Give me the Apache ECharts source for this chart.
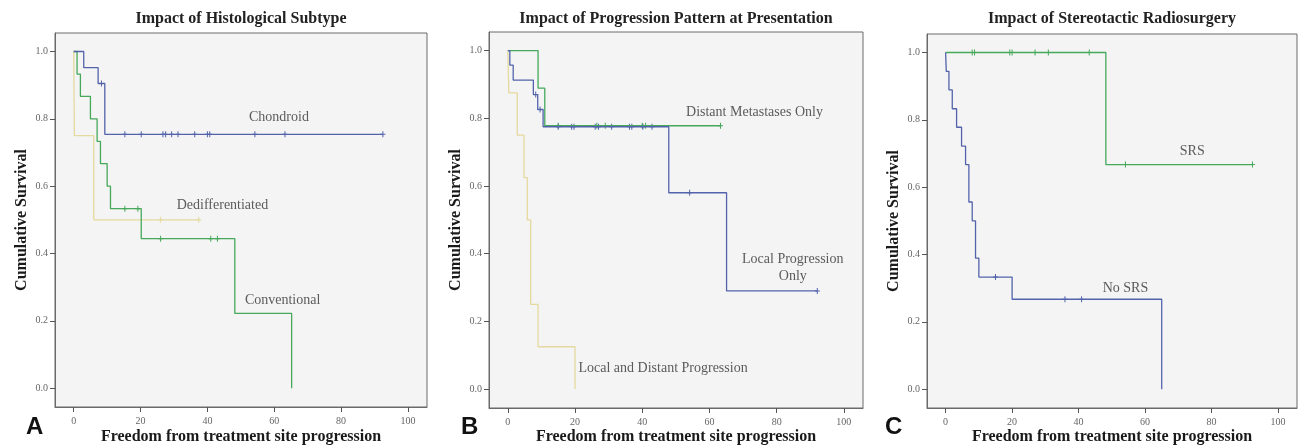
<!DOCTYPE html>
<html>
<head>
<meta charset="utf-8">
<script src="https://cdn.jsdelivr.net/npm/echarts@6/dist/echarts.min.js"></script>
<style>html,body{margin:0;padding:0;background:#fff;}#c{width:1300px;height:446px;}</style>
</head>
<body>
<div id="c"></div>
<script>
// ---------- data ----------
const xTicks = [0, 20, 40, 60, 80, 100];
const yTicks = [0, 0.2, 0.4, 0.6, 0.8, 1.0];
const panelTitles = ['Impact of Histological Subtype', 'Impact of Progression Pattern at Presentation', 'Impact of Stereotactic Radiosurgery'];
const panelLetters = ['A', 'B', 'C'];
const xAxisTitle = 'Freedom from treatment site progression';
const yAxisTitle = 'Cumulative Survival';

// Panel A
const chondroidTime = [0, 3.0, 7.3, 9.3, 92.5];
const chondroidSurv = [1, 0.952, 0.905, 0.754, 0.754];
const chondroidCensor = [8.3, 15.3, 20.2, 26.7, 27.5, 29.3, 31.2, 36.2, 40.0, 40.7, 54.2, 63.2, 92.5];
const conventionalTime = [0, 1.0, 2.0, 5.0, 7.0, 8.0, 10.0, 11.0, 20.2, 48.2, 65.2];
const conventionalSurv = [1, 0.933, 0.867, 0.8, 0.733, 0.667, 0.6, 0.533, 0.444, 0.222, 0];
const conventionalCensor = [15.3, 19.2, 26.0, 41.0, 43.0];
const dedifTime = [0, 0.2, 6.0, 37.4];
const dedifSurv = [1, 0.75, 0.5, 0.5];
const dedifCensor = [26.0, 37.4];

// Panel B
const distantTime = [0, 9.0, 11.0, 63.3];
const distantSurv = [1, 0.889, 0.778, 0.778];
const distantCensor = [15.0, 26.5, 29.0, 40.0, 41.0, 63.3];
const localTime = [0, 0.6, 1.6, 7.6, 8.9, 10.5, 47.9, 65.1, 92.1];
const localSurv = [1, 0.957, 0.913, 0.87, 0.826, 0.775, 0.58, 0.29, 0.29];
const localCensor = [8.3, 9.6, 15.0, 19.0, 19.7, 26.0, 27.0, 30.9, 36.2, 36.9, 40.2, 42.9, 54.1, 92.1];
const bothTime = [0, 0.3, 2.8, 4.8, 5.8, 6.8, 9.0, 20.0];
const bothSurv = [1, 0.875, 0.75, 0.625, 0.5, 0.25, 0.125, 0];
const bothCensor = [];

// Panel C
const srsTime = [0, 48.2, 92.3];
const srsSurv = [1, 0.667, 0.667];
const srsCensor = [8.0, 8.7, 19.3, 20.0, 26.9, 30.9, 43.2, 54.1, 92.3];
const noSrsTime = [0, 0.2, 1.0, 2.0, 3.3, 4.8, 6.0, 7.0, 8.0, 9.0, 10.0, 20.0, 65.0];
const noSrsSurv = [1, 0.944, 0.889, 0.833, 0.778, 0.722, 0.667, 0.556, 0.5, 0.389, 0.333, 0.267, 0];
const noSrsCensor = [15.0, 35.9, 40.9];

// ---------- styling / layout ----------
const BLUE = '#5263ab', GREEN = '#45a85a', TAN = '#e4d99e';
const SERIF = '"Liberation Serif", "Times New Roman", serif';
const grids = [
  {left: 55, top: 33, width: 372, height: 374},
  {left: 489, top: 32, width: 374, height: 376},
  {left: 927, top: 34, width: 370, height: 374}
];
const letterX = [26, 461, 885];
const curves = [
  {g: 0, t: dedifTime, s: dedifSurv, c: dedifCensor, color: TAN},
  {g: 0, t: conventionalTime, s: conventionalSurv, c: conventionalCensor, color: GREEN},
  {g: 0, t: chondroidTime, s: chondroidSurv, c: chondroidCensor, color: BLUE},
  {g: 1, t: bothTime, s: bothSurv, c: bothCensor, color: TAN},
  {g: 1, t: distantTime, s: distantSurv, c: distantCensor, color: GREEN},
  {g: 1, t: localTime, s: localSurv, c: localCensor, color: BLUE},
  {g: 2, t: srsTime, s: srsSurv, c: srsCensor, color: GREEN},
  {g: 2, t: noSrsTime, s: noSrsSurv, c: noSrsCensor, color: BLUE}
];
const annotations = [
  {g: 0, text: 'Chondroid', at: [61.4, 0.804]},
  {g: 0, text: 'Dedifferentiated', at: [44.5, 0.543]},
  {g: 0, text: 'Conventional', at: [62.5, 0.261]},
  {g: 1, text: 'Distant Metastases Only', at: [73.4, 0.817]},
  {g: 1, text: 'Local Progression\nOnly', at: [84.8, 0.357]},
  {g: 1, text: 'Local and Distant Progression', at: [46.2, 0.062]},
  {g: 2, text: 'SRS', at: [74.2, 0.705]},
  {g: 2, text: 'No SRS', at: [54.1, 0.30]}
];

function stepValue(times, surv, t) {
  let v = surv[0];
  for (let i = 0; i < times.length; i++) { if (times[i] <= t) v = surv[i]; }
  return v;
}

const PLUS = 'path://M2,0H3V2.5H5V3.5H3V6H2V3.5H0V2.5H2Z';

const series = [];
curves.forEach(cv => {
  series.push({
    type: 'line', xAxisIndex: cv.g, yAxisIndex: cv.g, step: 'end', silent: true,
    showSymbol: false, symbol: 'none', animation: false,
    lineStyle: {color: cv.color, width: 1.3},
    data: cv.t.map((t, i) => [t, cv.s[i]])
  });
  if (cv.c.length) series.push({
    type: 'scatter', xAxisIndex: cv.g, yAxisIndex: cv.g, silent: true, animation: false,
    symbol: PLUS, symbolSize: [5, 6], itemStyle: {color: cv.color, opacity: 1},
    data: cv.c.map(t => [t, stepValue(cv.t, cv.s, t)])
  });
});
annotations.forEach(a => {
  series.push({
    type: 'scatter', xAxisIndex: a.g, yAxisIndex: a.g, silent: true, animation: false,
    symbolSize: 1, itemStyle: {color: 'rgba(0,0,0,0)'},
    label: {show: true, position: 'inside', formatter: a.text, color: '#333',
      fontFamily: SERIF, fontSize: 14, lineHeight: 17, align: 'center'},
    data: [a.at]
  });
});

const graphics = [];
grids.forEach((g, i) => {
  graphics.push({type: 'text', x: g.left + g.width / 2, y: 437, silent: true,
    style: {text: xAxisTitle, align: 'center', verticalAlign: 'middle',
      font: 'bold 16px ' + SERIF, fill: '#1a1a1a'}});
  graphics.push({type: 'text', left: letterX[i], top: 415, silent: true,
    style: {text: panelLetters[i], font: 'bold 24px "Liberation Sans", Arial, sans-serif', fill: '#111'}});
});

const option = {
  animation: false,
  backgroundColor: '#ffffff',
  title: grids.map((g, i) => ({
    text: panelTitles[i], left: g.left + g.width / 2, top: 11, textAlign: 'center', padding: 0,
    textStyle: {fontFamily: SERIF, fontWeight: 'bold', fontSize: 16, color: '#222'}
  })),
  grid: grids.map(g => Object.assign({show: true, containLabel: false, outerBoundsMode: 'none',
    backgroundColor: '#f4f4f4', borderColor: '#6a6a6a', borderWidth: 1}, g)),
  xAxis: grids.map((g, i) => ({
    type: 'value', gridIndex: i, min: -5.6, max: 105.7,
    axisLine: {show: true, onZero: false, lineStyle: {color: '#6a6a6a'}},
    axisTick: {show: true, length: 5, customValues: xTicks, lineStyle: {color: '#555'}},
    axisLabel: {customValues: xTicks, margin: 9, fontSize: 10, color: '#666', fontFamily: SERIF},
    splitLine: {show: false}
  })),
  yAxis: grids.map((g, i) => ({
    type: 'value', gridIndex: i, min: -0.056, max: 1.055,
    name: yAxisTitle, nameLocation: 'middle', nameGap: 25,
    nameTextStyle: {fontFamily: SERIF, fontWeight: 'bold', fontSize: 16, color: '#1a1a1a'},
    axisLine: {show: true, onZero: false, lineStyle: {color: '#6a6a6a'}},
    axisTick: {show: true, length: 5, customValues: yTicks, lineStyle: {color: '#555'}},
    axisLabel: {customValues: yTicks, margin: 7, fontSize: 10, color: '#666', fontFamily: SERIF,
      formatter: v => v.toFixed(1)},
    splitLine: {show: false}
  })),
  graphic: graphics,
  series: series
};

const chart = echarts.init(document.getElementById('c'), null, {renderer: 'canvas'});
chart.setOption(option);
</script>
</body>
</html>
